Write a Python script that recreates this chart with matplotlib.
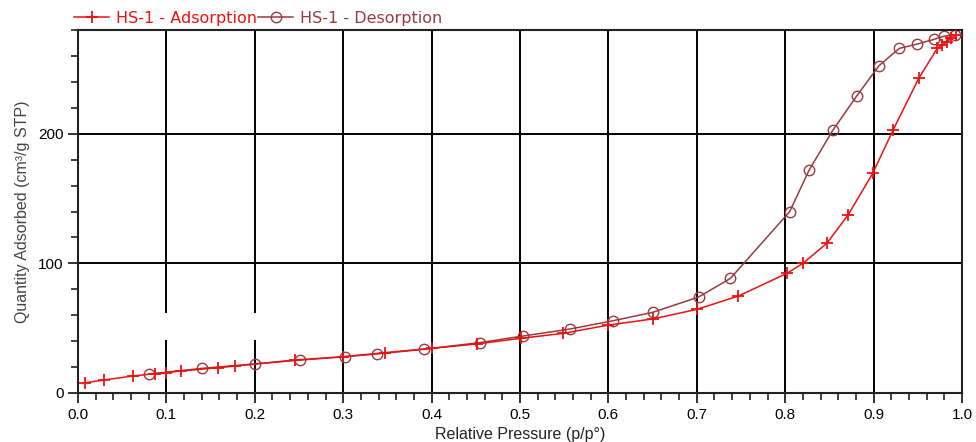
import matplotlib
matplotlib.use("Agg")
import matplotlib.pyplot as plt
from matplotlib.ticker import MultipleLocator, FormatStrFormatter
from matplotlib.patches import Rectangle

plt.rcParams['font.family'] = ['Liberation Sans', 'DejaVu Sans']

ads_x = [0.008, 0.029, 0.062, 0.087, 0.099, 0.117, 0.158, 0.178, 0.245, 0.300,
         0.347, 0.400, 0.451, 0.501, 0.549, 0.600, 0.650, 0.700, 0.747, 0.802,
         0.820, 0.847, 0.871, 0.899, 0.922, 0.951, 0.972, 0.977, 0.983, 0.987, 0.993]
ads_y = [7.9, 10.0, 13.1, 14.9, 15.7, 17.0, 19.5, 20.8, 25.4, 28.0,
         31.1, 34.5, 37.8, 42.2, 46.0, 52.4, 57.1, 64.5, 74.8, 92.3,
         100.0, 115.4, 137.2, 169.4, 202.8, 242.6, 265.8, 268.3, 270.9, 273.5, 276.0]

des_x = [0.992, 0.980, 0.968, 0.949, 0.929, 0.906, 0.881, 0.854, 0.827, 0.805,
         0.738, 0.702, 0.650, 0.605, 0.556, 0.503, 0.455, 0.391, 0.338, 0.302,
         0.251, 0.200, 0.140, 0.080]
des_y = [276.0, 275.3, 272.7, 269.1, 265.8, 252.4, 229.2, 202.8, 171.9, 139.8,
         88.4, 74.0, 62.2, 55.7, 49.3, 43.9, 38.9, 33.7, 30.1, 28.0,
         25.4, 22.4, 19.0, 14.6]

ads_label = "HS-1 - Adsorption"
des_label = "HS-1 - Desorption"
ads_color = "#ee1111"
des_color = "#9a3a40"

fig = plt.figure(figsize=(9.76, 4.42), dpi=100)
ax = fig.add_axes([78/976, 1-393/442, (962-78)/976, (393-30)/442])

ax.set_xlim(0, 1.0)
ax.set_ylim(0, 280)
ax.xaxis.set_major_locator(MultipleLocator(0.1))
ax.xaxis.set_minor_locator(MultipleLocator(0.02))
ax.yaxis.set_major_locator(MultipleLocator(100))
ax.yaxis.set_minor_locator(MultipleLocator(20))
ax.xaxis.set_major_formatter(FormatStrFormatter('%.1f'))

ax.set_axisbelow(True)
ax.grid(True, which='major', color='black', linewidth=1.4)

# white gaps in vertical grid lines near x=0.1, 0.2
for gx in [0.1, 0.2]:
    ax.add_patch(Rectangle((gx-0.004, 41), 0.008, 20.5, facecolor='white',
                           edgecolor='none', zorder=1))

l1, = ax.plot(ads_x, ads_y, color=ads_color, linewidth=1.1, marker='+',
              markersize=9, markeredgewidth=1.3, zorder=3, label=ads_label)
l2, = ax.plot(des_x, des_y, color=des_color, linewidth=1.1, marker='o',
              markersize=7.5, fillstyle='none', markeredgewidth=1.0, zorder=2,
              label=des_label)

for s in ax.spines.values():
    s.set_color('#222222')
    s.set_linewidth(1.5)

ax.tick_params(which='major', direction='out', length=7, width=1.3,
               labelsize=11, color='#222222')
ax.tick_params(which='minor', direction='out', length=5, width=1.2,
               color='#222222')

ax.set_xlabel("Relative Pressure (p/p°)", fontsize=11.5, color='#222222', labelpad=4)
ax.set_ylabel("Quantity Adsorbed (cm³/g STP)", fontsize=11.5, color='#444444', labelpad=6)

leg = fig.legend(handles=[l1, l2], loc='center left',
                 bbox_to_anchor=(74/976, 1-18/442), ncol=2, frameon=False,
                 handlelength=2.2, handletextpad=0.4,
                 columnspacing=0.1, borderpad=0, borderaxespad=0,
                 prop={'family': 'DejaVu Sans', 'size': 11.5})
for txt, c in zip(leg.get_texts(), [ads_color, des_color]):
    txt.set_color(c)

fig.savefig("out.png", dpi=100)
